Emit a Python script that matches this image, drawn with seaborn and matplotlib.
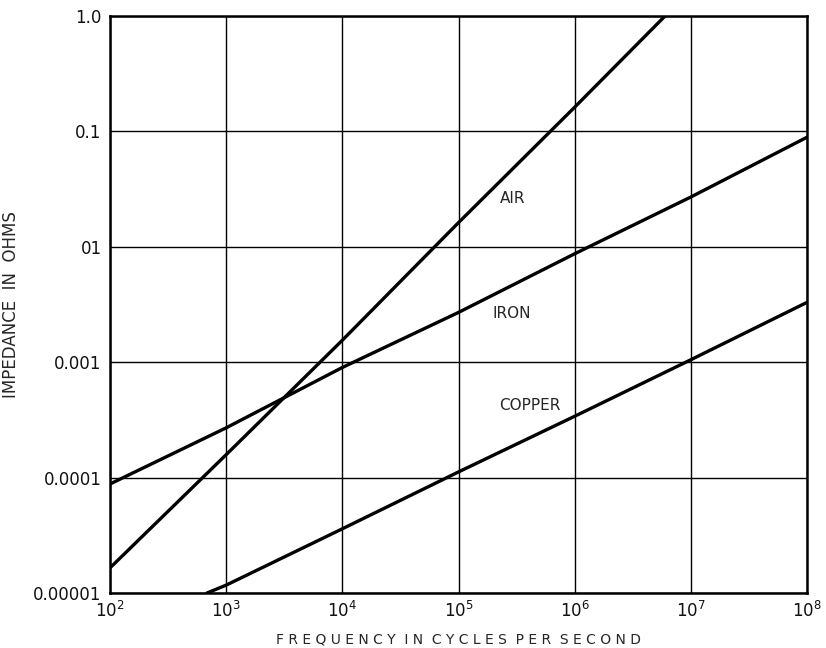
import numpy as np
import pandas as pd
import matplotlib
matplotlib.use("Agg")
import matplotlib.pyplot as plt
import matplotlib.ticker as mticker
import seaborn as sns

# values (log-log straight lines)
air_freq = [1e2, 1e3, 1e4, 1e5, 1e6, 6.0e6]
air_imp = [1.65e-5, 1.58e-4, 1.55e-3, 1.62e-2, 0.162, 1.0]

iron_freq = [1e2, 1e3, 1e4, 1e5, 1e6, 1e7, 1e8]
iron_imp = [8.8e-5, 2.7e-4, 9.0e-4, 2.7e-3, 8.7e-3, 2.7e-2, 8.9e-2]

copper_freq = [6.84e2, 1e3, 1e4, 1e5, 1e6, 1e7, 1e8]
copper_imp = [1.0e-5, 1.17e-5, 3.6e-5, 1.12e-4, 3.4e-4, 1.05e-3, 3.3e-3]

y_ticks = [1e-5, 1e-4, 1e-3, 1e-2, 1e-1, 1.0]
y_tick_labels = ["0.00001", "0.0001", "0.001", "01", "0.1", "1.0"]
x_ticks = [1e2, 1e3, 1e4, 1e5, 1e6, 1e7, 1e8]
x_tick_labels = [r"$10^{%d}$" % p for p in range(2, 9)]

labels = {"AIR": (513, 199), "IRON": (512, 314), "COPPER": (530, 405)}

sns.set_style("white")
plt.rcParams["font.family"] = ["DejaVu Sans"]
plt.rcParams["mathtext.fontset"] = "dejavusans"

df = pd.concat([
    pd.DataFrame({"freq": air_freq, "imp": air_imp, "material": "AIR"}),
    pd.DataFrame({"freq": iron_freq, "imp": iron_imp, "material": "IRON"}),
    pd.DataFrame({"freq": copper_freq, "imp": copper_imp, "material": "COPPER"}),
], ignore_index=True)

fig = plt.figure(figsize=(8.26, 6.48), dpi=100)
ax = fig.add_axes([110 / 826, 1 - 593 / 648, (807 - 110) / 826, (593 - 16) / 648])

sns.lineplot(data=df, x="freq", y="imp", units="material", estimator=None,
             color="black", linewidth=2.4, ax=ax, legend=False, sort=False)

ax.set_xscale("log")
ax.set_yscale("log")
ax.set_xlim(1e2, 1e8)
ax.set_ylim(1e-5, 1.0)

ax.xaxis.set_major_locator(mticker.FixedLocator(x_ticks))
ax.xaxis.set_minor_locator(mticker.NullLocator())
ax.yaxis.set_major_locator(mticker.FixedLocator(y_ticks))
ax.yaxis.set_minor_locator(mticker.NullLocator())
ax.set_xticklabels(x_tick_labels)
ax.set_yticklabels(y_tick_labels)
ax.tick_params(axis="both", length=0, labelsize=12, colors="#111111", pad=6)

ax.grid(True, which="major", color="black", linewidth=1.0)
for s in ax.spines.values():
    s.set_visible(True)
    s.set_color("black")
    s.set_linewidth(1.8)

ax.set_xlabel("F R E Q U E N C Y   I N   C Y C L E S   P E R   S E C O N D".replace("   ", "  "),
              fontsize=10, labelpad=8)
ax.set_ylabel("IMPEDANCE  IN  OHMS", fontsize=12)
ax.yaxis.set_label_coords((20 - 110) / 697, 0.5)

for name, (px, py) in labels.items():
    fig.text(px / 826, 1 - py / 648, name, ha="center", va="center", fontsize=11)

fig.savefig("out.png", dpi=100, facecolor="white")
